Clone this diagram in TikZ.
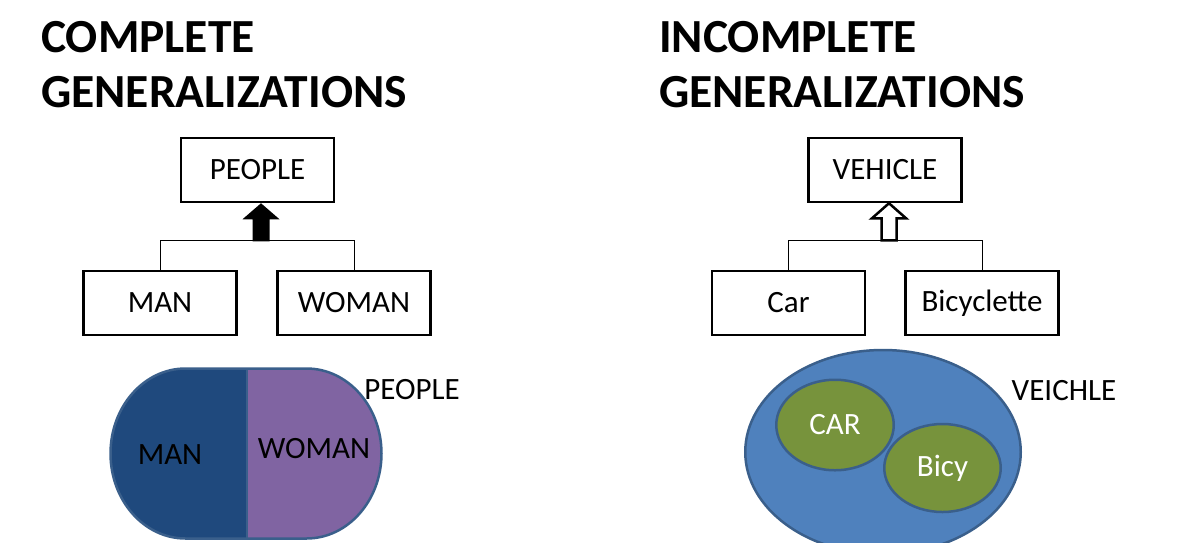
\documentclass[tikz,border=0pt]{standalone}
\usepackage{fontspec}
\setmainfont{Carlito}
\usetikzlibrary{shapes.geometric}
\definecolor{manblue}{HTML}{1F497D}
\definecolor{womanpurple}{HTML}{8064A2}
\definecolor{setborder}{HTML}{3A5F8B}
\definecolor{vblue}{HTML}{4F81BD}
\definecolor{vgreen}{HTML}{77933C}
\begin{document}
\begin{tikzpicture}[x=1pt,y=-1pt,
  box/.style={draw, line width=2.5pt, minimum width=153pt, minimum height=64pt, inner sep=0pt, font=\fontsize{31}{36}\selectfont},
  title/.style={anchor=base west, inner sep=0pt, font=\bfseries\fontsize{47.5}{56}\selectfont},
  conn/.style={line width=1pt},
  lbl/.style={inner sep=0pt, font=\fontsize{31}{36}\selectfont},
  setline/.style={draw=setborder, line width=2.5pt},
  subset/.style={ellipse, setline, fill=vgreen, inner sep=0pt, text=white, font=\fontsize{31}{36}\selectfont}
]
\useasboundingbox (0,0) rectangle (1178,542);
\clip (0,0) rectangle (1178,542);

% titles
\node[title] (t1a) at (41,52) {COMPLETE};
\node[title] (t1b) at (41,107) {GENERALIZATIONS};
\node[title] (t2a) at (659,52) {INCOMPLETE};
\node[title] (t2b) at (659,107) {GENERALIZATIONS};

% complete hierarchy
\node[box] (people) at (257.5,170) {PEOPLE};
\node[box] (man) at (160,303) {MAN};
\node[box] (woman) at (354,303) {WOMAN};
\draw[conn] (man.north) -- ++(0,-29) -| (woman.north);
\coordinate (tipA) at (people.south -| 261,0);
\fill[black] (tipA) -- ++(18.5,16) -- ++(-10,0) -- ++(0,22) -- ++(-17,0) -- ++(0,-22) -- ++(-10,0) -- cycle;

% incomplete hierarchy
\node[box] (vehicle) at (885,170) {VEHICLE};
\node[box] (car) at (788.5,303) {Car};
\node[box] (bicyclette) at (982,303) {Bicyclette};
\draw[conn] (car.north) -- ++(0,-29) -| (bicyclette.north);
\coordinate (tipB) at (vehicle.south -| 889,0);
\draw[line width=2.5pt, fill=white] (tipB) -- ++(17,15) -- ++(-9.5,0) -- ++(0,22) -- ++(-15,0) -- ++(0,-22) -- ++(-9.5,0) -- cycle;

% complete set diagram
\fill[manblue] (247,368.5) -- (185.5,368.5) arc[start angle=-90, end angle=-270, x radius=75, y radius=85] -- (247,538.5) -- cycle;
\fill[womanpurple] (247,368.5) -- (306.5,368.5) arc[start angle=-90, end angle=90, x radius=75, y radius=85] -- (247,538.5) -- cycle;
\draw[setline] (185.5,368.5) arc[start angle=-90, end angle=-270, x radius=75, y radius=85] -- (306.5,538.5) arc[start angle=90, end angle=-90, x radius=75, y radius=85] -- cycle;
\draw[setline] (247,368.5) -- (247,538.5);
\node[lbl] (mantxt) at (170,455) {MAN};
\node[lbl] (womantxt) at (314,449) {WOMAN};
\node[lbl] (peoplelbl) at (412,390) {PEOPLE};

% incomplete set diagram
\node[ellipse, setline, fill=vblue, inner sep=0pt, minimum width=275.5pt, minimum height=204pt] (vset) at (883,452) {};
\node[subset, minimum width=117.5pt, minimum height=90.5pt] (carset) at (835,425) {CAR};
\node[subset, minimum width=116.5pt, minimum height=88pt] (bicyset) at (942.5,468) {Bicy};
\node[lbl] (vlbl) at (1064,391) {VEICHLE};
\end{tikzpicture}
\end{document}
